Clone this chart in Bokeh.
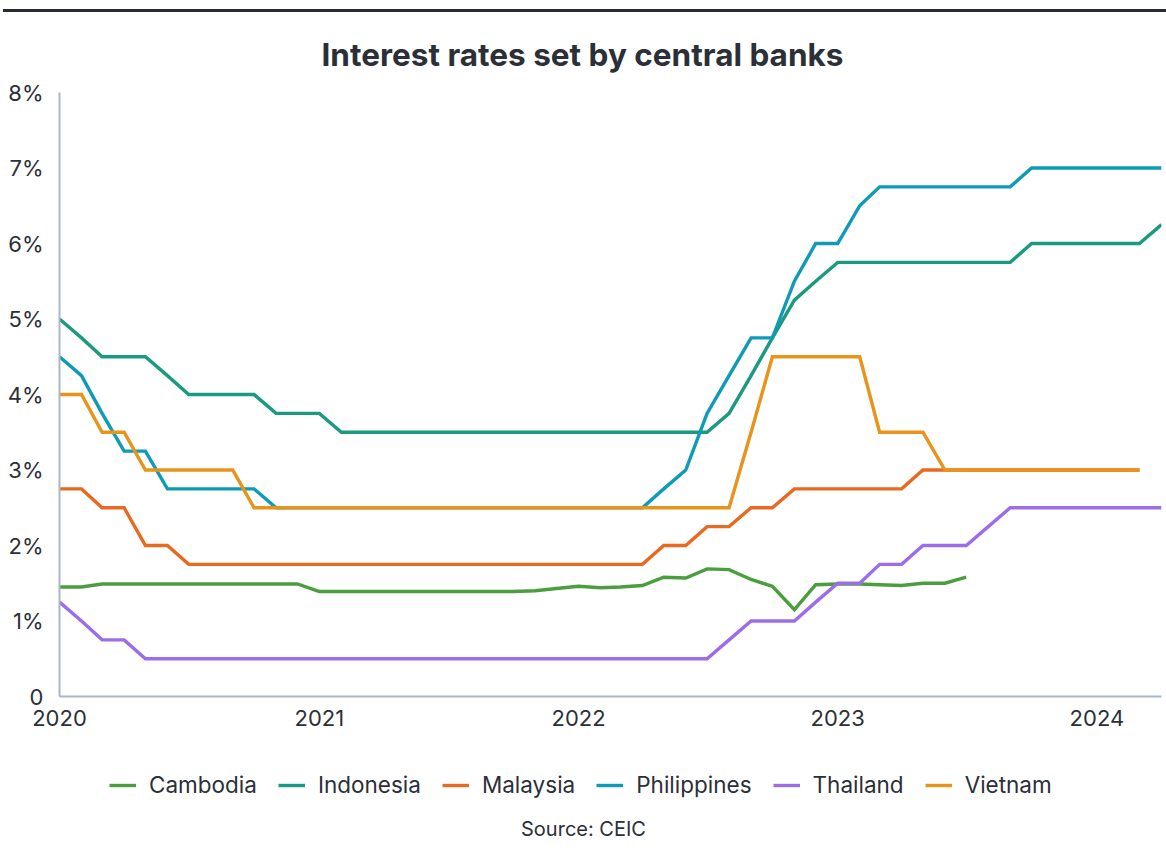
import pandas as pd
from bokeh.plotting import figure
from bokeh.models import (FixedTicker, Legend, LegendItem, Title, Div, Label,
                          DatetimeTickFormatter, Range1d)
from bokeh.layouts import column
from bokeh.embed import file_html
from bokeh.resources import INLINE

# ---------------- data (monthly, policy rates in %) ----------------
start = "2020-01-01"
cambodia = [1.45, 1.45] + [1.49] * 10 + [1.39] * 10 + [
    1.40, 1.43, 1.46, 1.44, 1.45, 1.47, 1.58, 1.57, 1.69, 1.68, 1.55,
    1.46, 1.15, 1.48, 1.49, 1.49, 1.48, 1.47, 1.50, 1.50, 1.58]
indonesia = [5.0, 4.75, 4.5, 4.5, 4.5, 4.25, 4.0, 4.0, 4.0, 4.0, 3.75, 3.75, 3.75] + \
    [3.5] * 18 + [3.75, 4.25, 4.75, 5.25, 5.5] + [5.75] * 9 + [6.0] * 6 + [6.25]
malaysia = [2.75, 2.75, 2.5, 2.5, 2.0, 2.0] + [1.75] * 22 + \
    [2.0, 2.0, 2.25, 2.25, 2.5, 2.5] + [2.75] * 6 + [3.0] * 11
philippines = [4.5, 4.25, 3.75, 3.25, 3.25] + [2.75] * 5 + [2.5] * 18 + \
    [2.75, 3.0, 3.75, 4.25, 4.75, 4.75, 5.5, 6.0, 6.0, 6.5] + [6.75] * 7 + [7.0] * 7
thailand = [1.25, 1.0, 0.75, 0.75] + [0.5] * 27 + [0.75, 1.0, 1.0, 1.0, 1.25, 1.5, 1.5,
    1.75, 1.75, 2.0, 2.0, 2.0, 2.25] + [2.5] * 8
vietnam = [4.0, 4.0, 3.5, 3.5] + [3.0] * 5 + [2.5] * 23 + [3.5] + [4.5] * 5 + \
    [3.5] * 3 + [3.0] * 10

names = ["Cambodia", "Indonesia", "Malaysia", "Philippines", "Thailand", "Vietnam"]
series = [cambodia, indonesia, malaysia, philippines, thailand, vietnam]
colors = ["#4a9e3e", "#1a9a80", "#e8691f", "#0e9bb5", "#9b6ee8", "#e8931b"]
y_ticks = [0, 1, 2, 3, 4, 5, 6, 7, 8]
y_labels = ["0", "1%", "2%", "3%", "4%", "5%", "6%", "7%", "8%"]
year_ticks = ["2020-01-01", "2021-01-01", "2022-01-01", "2023-01-01", "2024-01-01"]
x_end = "2024-04-01"

TEXT = "#2b3038"
AXIS = "#a9b7c6"
FONT = "Inter"

# ---------------- main chart ----------------
p = figure(width=1166, height=728, output_backend="svg", toolbar_location=None,
           x_axis_type="datetime",
           x_range=Range1d(pd.Timestamp(start), pd.Timestamp(x_end)),
           y_range=Range1d(0, 8),
           min_border_left=59, min_border_right=5, min_border_top=80,
           min_border_bottom=44)
p.outline_line_color = None
p.grid.visible = False

for name, vals, col in zip(names, series, colors):
    xs = pd.date_range(start, periods=len(vals), freq="MS")
    p.line(xs, vals, line_color=col, line_width=3.4, line_join="miter")

p.yaxis.ticker = FixedTicker(ticks=y_ticks)
p.yaxis.major_label_overrides = {t: l for t, l in zip(y_ticks, y_labels)}
p.xaxis.ticker = FixedTicker(ticks=[pd.Timestamp(d).value // 10**6 for d in year_ticks])
p.xaxis.formatter = DatetimeTickFormatter(years="%Y", months="%Y", days="%Y",
                                          hours="%Y", minutes="%Y", seconds="%Y")
for ax in (p.xaxis, p.yaxis):
    ax.axis_line_color = AXIS
    ax.axis_line_width = 2
    ax.major_tick_line_color = None
    ax.minor_tick_line_color = None
    ax.major_tick_out = 0
    ax.major_tick_in = 0
    ax.minor_tick_out = 0
    ax.major_label_text_font = FONT
    ax.major_label_text_font_size = "22px"
    ax.major_label_text_color = TEXT
p.yaxis.major_label_standoff = 16
p.xaxis.major_label_standoff = 13

title = Title(text="Interest rates set by central banks", align="left", offset=262,
              standoff=38, text_font=FONT, text_font_size="31.5px",
              text_font_style="bold", text_color=TEXT)
p.add_layout(title, "above")

# ---------------- legend + source strip (frame aligned with main chart) ----------------
q = figure(width=1166, height=120, output_backend="svg", toolbar_location=None,
           x_range=Range1d(0, 1), y_range=Range1d(0, 1),
           min_border_left=59, min_border_right=5, min_border_top=0,
           min_border_bottom=0)
q.axis.visible = False
q.grid.visible = False
q.outline_line_color = None

items = []
for name, vals, col in zip(names, series, colors):
    # same series, but outside this strip's ranges: only the legend swatch shows
    xs = pd.date_range(start, periods=len(vals), freq="MS")
    r = q.line(xs, vals, line_color=col, line_width=3.4)
    items.append(LegendItem(label=name, renderers=[r]))

legend = Legend(items=items, orientation="horizontal", location=(50, 62),
                label_text_font=FONT, label_text_font_size="22.5px",
                label_text_color=TEXT, glyph_width=27, glyph_height=26,
                label_standoff=13, spacing=21, padding=0, margin=0,
                border_line_color=None, background_fill_color=None)
q.add_layout(legend, "center")

source = Label(x=524, y=32, x_units="screen", y_units="screen", text="Source: CEIC",
               text_align="center", text_baseline="middle", text_font=FONT,
               text_font_size="20px", text_color=TEXT)
q.add_layout(source)

top_rule = Div(text="", width=1163, height=3, margin=(9, 0, 0, 3),
               styles={"background-color": "#262b33"})

layout = column(top_rule, p, q, spacing=0)
open("out.html", "w").write(file_html(layout, INLINE))
